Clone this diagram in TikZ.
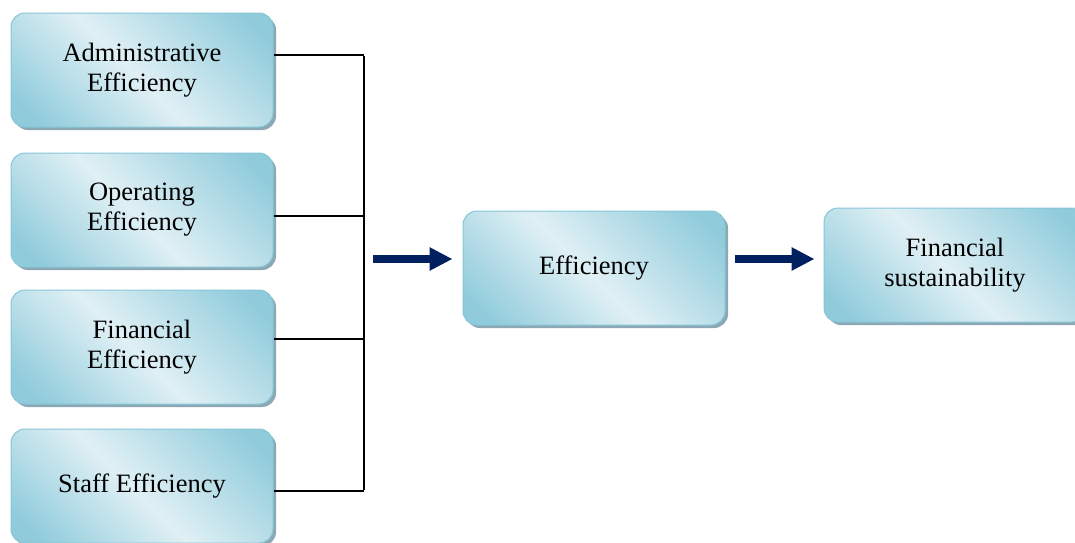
\documentclass[tikz,border=0pt]{standalone}
\usepackage{fontspec}
\setmainfont{Liberation Serif}
\usetikzlibrary{positioning,arrows.meta,shadows}
\definecolor{tiledark}{RGB}{143,203,219}
\definecolor{tilelight}{RGB}{224,240,245}
\definecolor{tileedge}{RGB}{135,198,215}
\definecolor{tileshadow}{RGB}{140,168,180}
\definecolor{navy}{RGB}{0,32,96}
\pgfdeclarehorizontalshading{tileshade}{100bp}{color(0bp)=(tiledark); color(20bp)=(tiledark); color(48bp)=(tilelight); color(80bp)=(tiledark); color(100bp)=(tiledark)}
\tikzset{
  tile/.style={draw=tileedge, line width=1pt, rounded corners=14pt,
    shading=tileshade, shading angle=45,
    drop shadow={shadow xshift=3pt, shadow yshift=-3pt, fill=tileshadow, opacity=1},
    minimum width=262pt, minimum height=114pt, align=center,
    font=\fontsize{26.5}{30}\selectfont},
  wire/.style={line width=2pt},
  flow/.style={navy, line width=8pt, -{Triangle[length=23pt,width=22pt]}}
}
\begin{document}
\begin{tikzpicture}[x=1pt,y=-1pt]
  \useasboundingbox (0,0) rectangle (1075,542);
  \clip (0,0) rectangle (1075,542);
  % four inputs on the left
  \node[tile] (adm) at (142,70) {Administrative\\Efficiency};
  \node[tile] (opr) at (142,210) {Operating\\Efficiency};
  \node[tile] (fin) at (142,347) {Financial\\Efficiency};
  \node[tile] (stf) at (142,486) {Staff Efficiency};
  % result chain
  \node[tile] (eff) at (594,268) {Efficiency};
  \node[tile] (sus) at (955,265) {Financial\\sustainability};
  % bus joining the inputs
  \coordinate (j1) at (364,55);
  \coordinate (j2) at (364,216);
  \coordinate (j3) at (364,339);
  \coordinate (j4) at (364,491);
  \draw[wire] (adm.east |- j1) -- (j1);
  \draw[wire] (opr.east |- j2) -- (j2);
  \draw[wire] (fin.east |- j3) -- (j3);
  \draw[wire] (stf.east |- j4) -- (j4);
  \draw[wire] ([yshift=-1pt]j1) -- ([yshift=1pt]j4);
  % arrows
  \coordinate (a1) at (364,259);
  \draw[flow, shorten <=9pt, shorten >=10pt] (a1) -- (eff.west |- a1);
  \draw[flow, shorten <=9pt, shorten >=9pt] (eff.east |- a1) -- (sus.west |- a1);
\end{tikzpicture}
\end{document}
